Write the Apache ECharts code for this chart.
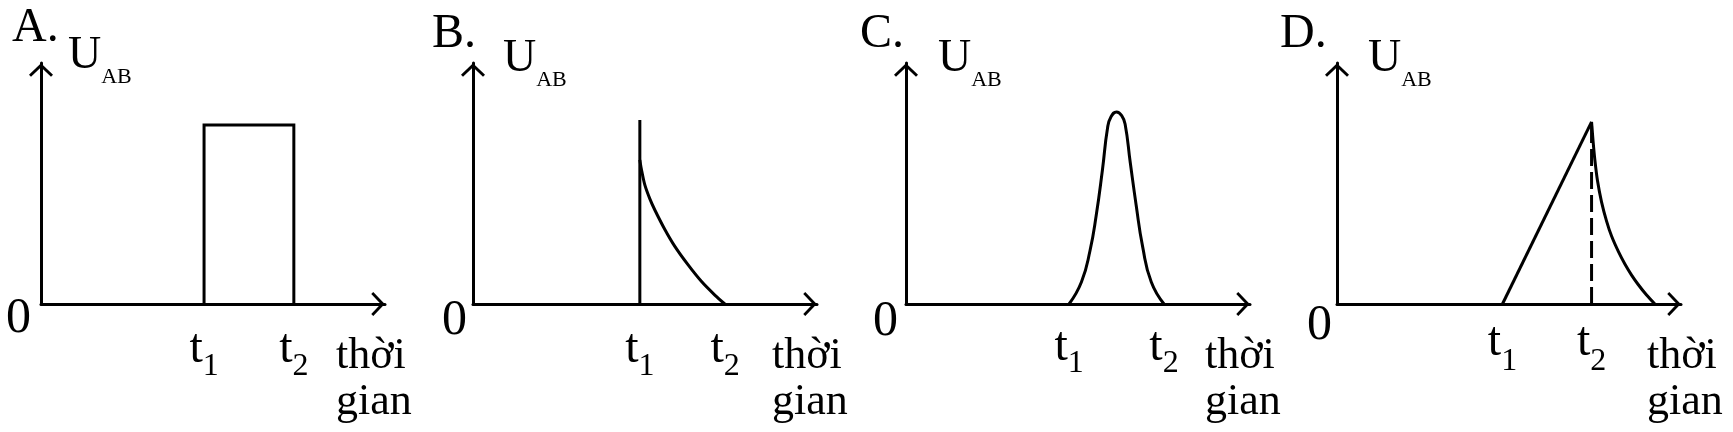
<!DOCTYPE html>
<html><head><meta charset="utf-8">
<script src="https://cdn.jsdelivr.net/npm/echarts@6/dist/echarts.min.js"></script>
<style>html,body{margin:0;padding:0;background:#fff}#c{width:1733px;height:432px}</style>
</head><body><div id="c"></div><script>
// ---- data ----
const panelLetters = ['A.', 'B.', 'C.', 'D.'];
const yNameParts = ['U', 'AB'];
const xName = 'thời\ngian';
const zeroLabel = '0';
const tickSubs = ['1', '2'];
const ticksA = [4.74, 7.35];
const ticksB = [4.85, 7.33];
const ticksC = [4.74, 7.50];
const ticksD = [4.81, 7.40];
const pulseA = [[4.74, 0], [4.74, 7.43], [7.35, 7.43], [7.35, 0]];
const spikeB = [[4.85, 0], [4.85, 7.63]];
const decayB = [[4.850, 5.98], [4.894, 5.60], [4.995, 4.94], [5.141, 4.36], [5.286, 3.90], [5.577, 3.09], [5.867, 2.39], [6.254, 1.62], [6.644, 0.93], [7.030, 0.37], [7.321, 0]];
const bellC = [[4.74, 0], [5.10, 0.91], [5.35, 2.22], [5.53, 3.68], [5.71, 5.56], [5.86, 7.31], [5.96, 7.77], [6.12, 7.97], [6.27, 7.82], [6.37, 7.46], [6.52, 5.86], [6.69, 4.11], [6.88, 2.37], [7.13, 0.91], [7.50, 0]];
const riseD = [[4.81, 0], [7.40, 7.56]];
const decayD = [[7.400, 7.56], [7.444, 6.76], [7.496, 5.98], [7.574, 5.10], [7.691, 4.23], [7.836, 3.44], [7.981, 2.82], [8.185, 2.16], [8.368, 1.66], [8.563, 1.20], [8.755, 0.81], [8.999, 0.37], [9.240, 0]];
const dashD = [[7.40, 0], [7.40, 7.4]];

// ---- layout (px) ----
const gridLeft = [41, 473, 906, 1337];
const letterLeft = [12, 432, 860, 1280];
const letterTop = [4, 10, 10, 10];
const uGap = [30, 27, 27, 27];
const uPad = [27, 30, 32, 31];
const zeroLH = [30, 34, 36, 44];
const zeroMargin = [10, 6, 8, 5];
const tMargin = [21, 21, 19, 14];
const subPad = [26, 26, 25, 28];
const nameGapX = [-49, -45, -45, -34];
const ticks = [ticksA, ticksB, ticksC, ticksD];

const FONT = 'Liberation Serif';
const INK = '#000';
const chevron = 'path://M12,0 L24,11.5 L22,13.5 L12,4 L2,13.5 L0,11.5 Z';

const axisLine = {
  show: true,
  symbol: ['none', chevron],
  symbolSize: [24, 14],
  symbolOffset: [0, -7],
  lineStyle: { color: INK, width: 3 }
};

const grids = [], xAxes = [], yAxes = [], titles = [], series = [];
for (let i = 0; i < 4; i++) {
  grids.push({ left: gridLeft[i], top: 63, width: 344, height: 241 });
  titles.push({
    text: panelLetters[i], left: letterLeft[i], top: letterTop[i], padding: 0,
    textStyle: { fontFamily: FONT, fontSize: 48, fontWeight: 'normal', color: INK }
  });
  const tv = ticks[i];
  xAxes.push({
    type: 'value', gridIndex: i, min: 0, max: 10,
    axisLine: axisLine, axisTick: { show: false }, splitLine: { show: false },
    axisLabel: {
      customValues: tv,
      margin: tMargin[i],
      formatter: function (v) { return '{t|t}{s|' + tickSubs[tv.indexOf(v)] + '}'; },
      rich: {
        t: { fontFamily: FONT, fontSize: 48, color: INK, verticalAlign: 'top' },
        s: { fontFamily: FONT, fontSize: 32, color: INK, verticalAlign: 'top', padding: [subPad[i], 0, 0, 0] }
      }
    },
    name: xName, nameLocation: 'end', nameGap: nameGapX[i],
    nameTextStyle: { fontFamily: FONT, fontSize: 44, lineHeight: 46, color: INK, align: 'left', verticalAlign: 'top', padding: [29, 0, 0, 0] }
  });
  yAxes.push({
    type: 'value', gridIndex: i, min: 0, max: 10,
    axisLine: axisLine, axisTick: { show: false }, splitLine: { show: false },
    axisLabel: {
      customValues: [0], formatter: function () { return zeroLabel; },
      margin: zeroMargin[i], fontFamily: FONT, fontSize: 50, lineHeight: zeroLH[i], color: INK,
      verticalAlign: 'top'
    },
    name: '{u|' + yNameParts[0] + '}{s|' + yNameParts[1] + '}', nameLocation: 'end', nameGap: uGap[i],
    nameTextStyle: {
      align: 'left', verticalAlign: 'top', padding: [0, 0, 0, uPad[i]],
      rich: {
        u: { fontFamily: FONT, fontSize: 46, color: INK, verticalAlign: 'top' },
        s: { fontFamily: FONT, fontSize: 22, color: INK, verticalAlign: 'top', padding: [33, 0, 0, 0] }
      }
    }
  });
}

function line(idx, data, extra) {
  return Object.assign({
    type: 'line', xAxisIndex: idx, yAxisIndex: idx, data: data,
    showSymbol: false, symbol: 'none', silent: true,
    lineStyle: { color: INK, width: 3, join: 'miter', cap: 'butt' }
  }, extra || {});
}
series.push(line(0, pulseA));
series.push(line(1, spikeB));
series.push(line(1, decayB, { smooth: 0.3 }));
series.push(line(2, bellC, { smooth: 0.5 }));
series.push(line(3, riseD));
series.push(line(3, decayD, { smooth: 0.3 }));
series.push(line(3, dashD, { lineStyle: { color: INK, width: 3, type: [17, 6], cap: 'butt' } }));

const chart = echarts.init(document.getElementById('c'), null, { renderer: 'canvas' });
chart.setOption({
  animation: false, backgroundColor: '#fff',
  title: titles, grid: grids, xAxis: xAxes, yAxis: yAxes, series: series
});
</script></body></html>
